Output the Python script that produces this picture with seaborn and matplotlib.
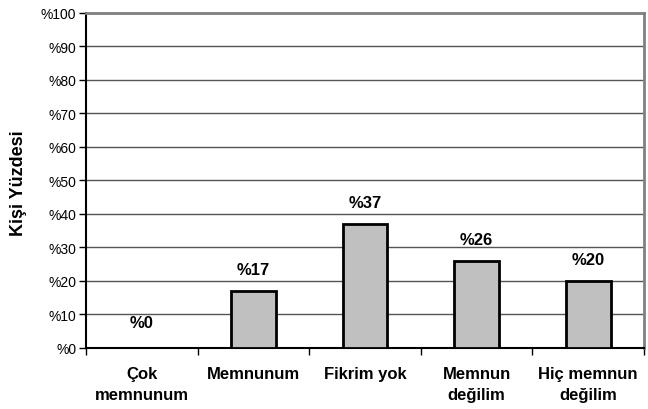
import matplotlib
matplotlib.use("Agg")
import matplotlib.pyplot as plt
import seaborn as sns
import pandas as pd
from matplotlib.ticker import FixedLocator

categories = ["Çok\nmemnunum", "Memnunum", "Fikrim yok", "Memnun\ndeğilim", "Hiç memnun\ndeğilim"]
values = [0, 17, 37, 26, 20]
yticks = list(range(0, 101, 10))
ytick_labels = [f"%{v}" for v in yticks]
value_labels = [f"%{v}" for v in values]

sns.set_theme(style="white")
plt.rcParams['font.family'] = ['Liberation Sans', 'DejaVu Sans']
plt.rcParams['text.color'] = 'black'
plt.rcParams['axes.labelcolor'] = 'black'
plt.rcParams['xtick.color'] = 'black'
plt.rcParams['ytick.color'] = 'black'

df = pd.DataFrame({"cat": categories, "val": values})

fig = plt.figure(figsize=(6.48, 4.10), dpi=100)
ax = fig.add_axes([86/648, 1-349/410, (644-86)/648, (349-13.5)/410])

sns.barplot(data=df, x="cat", y="val", color="#C0C0C0", edgecolor="black",
            linewidth=2, width=0.4, saturation=1, ax=ax, zorder=3)

ax.set_ylim(0, 100)
ax.set_xlim(-0.5, len(categories) - 0.5)
ax.set_yticks(yticks)
ax.set_yticklabels(ytick_labels, fontsize=10, color="black")
ax.yaxis.grid(True, color="#555555", linewidth=1)
ax.set_axisbelow(True)

ax.tick_params(axis="x", which="major", length=0, pad=13, labelsize=12, labelcolor="black")
for t in ax.get_xticklabels():
    t.set_fontweight("bold")
    t.set_linespacing(1.5)
ax.xaxis.set_minor_locator(FixedLocator([i - 0.5 for i in range(len(categories) + 1)]))
ax.tick_params(axis="x", which="minor", length=5, width=1, color="black", direction="out", bottom=True)
ax.tick_params(axis="y", length=5, width=1, color="black", direction="out", left=True, pad=2, labelcolor="black")

ax.set_xlabel("")
ax.set_ylabel("Kişi Yüzdesi", fontsize=13, fontweight="bold", color="black")
ax.yaxis.set_label_coords(-0.106, 0.495)

for s in ["left", "bottom"]:
    ax.spines[s].set_color("black")
    ax.spines[s].set_linewidth(1.5)
for s in ["top", "right"]:
    ax.spines[s].set_color("#808080")
    ax.spines[s].set_linewidth(2)

for i, (v, lab) in enumerate(zip(values, value_labels)):
    ax.annotate(lab, (i, v), xytext=(0, 13 if v == 0 else 10), textcoords="offset points",
                ha="center", va="bottom", fontsize=12, fontweight="bold", color="black")

fig.savefig("out.png", dpi=100)
